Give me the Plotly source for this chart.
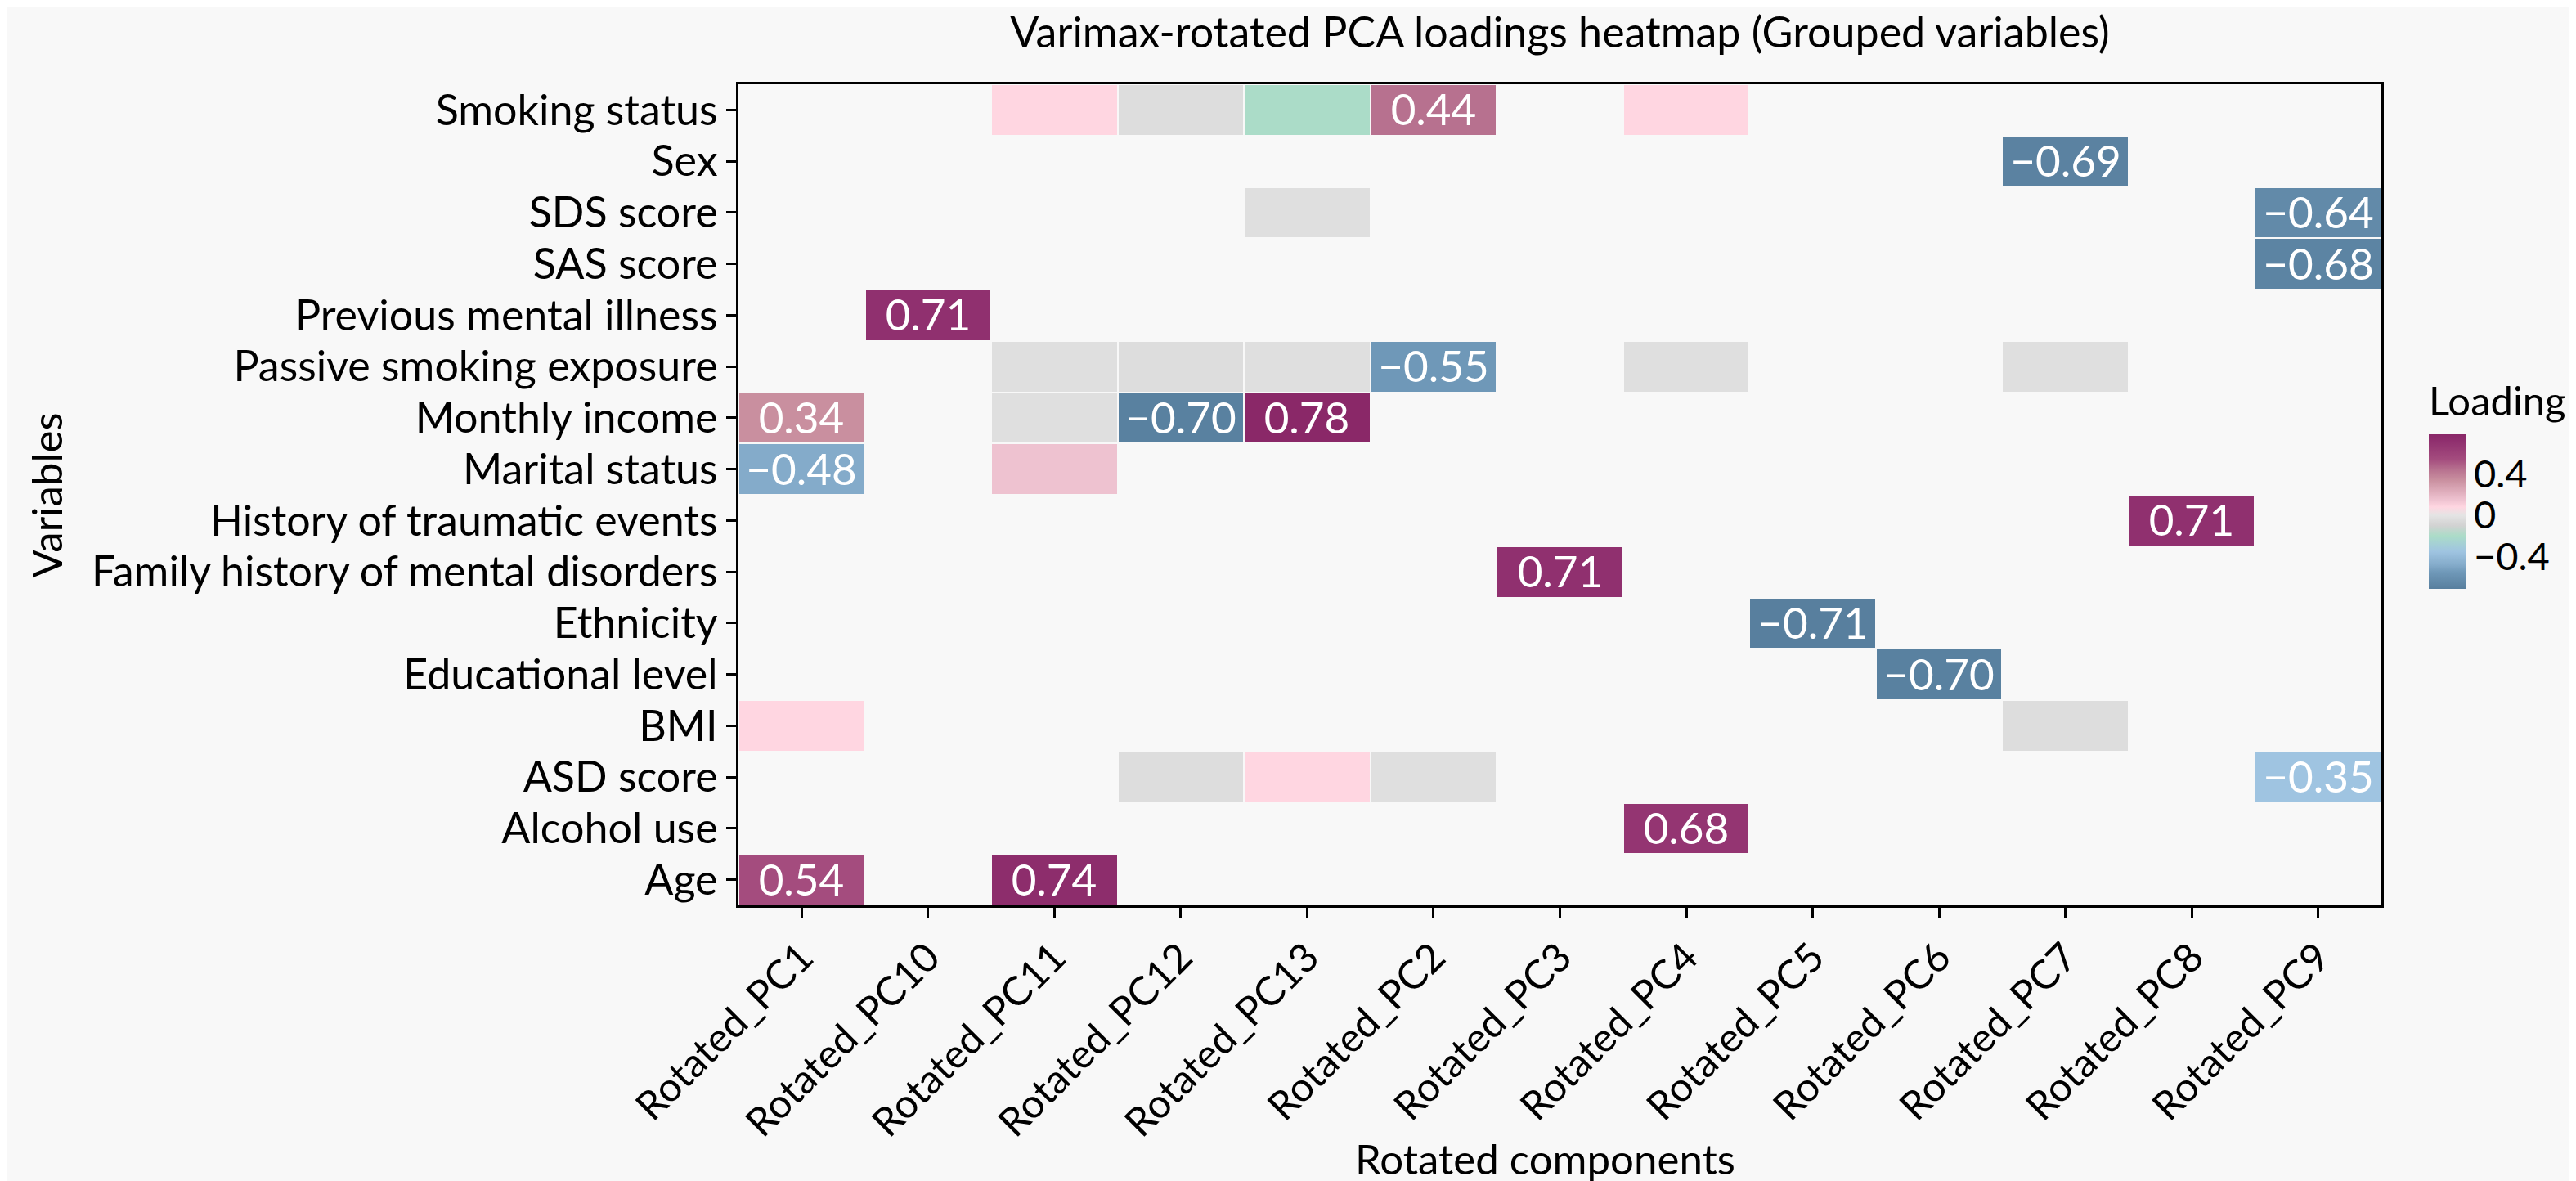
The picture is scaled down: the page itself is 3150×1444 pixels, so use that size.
import plotly.graph_objects as go

components = ["Rotated_PC1", "Rotated_PC10", "Rotated_PC11", "Rotated_PC12", "Rotated_PC13",
              "Rotated_PC2", "Rotated_PC3", "Rotated_PC4", "Rotated_PC5", "Rotated_PC6",
              "Rotated_PC7", "Rotated_PC8", "Rotated_PC9"]

variables = ["Smoking status", "Sex", "SDS score", "SAS score", "Previous mental illness",
             "Passive smoking exposure", "Monthly income", "Marital status",
             "History of traumatic events", "Family history of mental disorders",
             "Ethnicity", "Educational level", "BMI", "ASD score", "Alcohol use", "Age"]

# one row per variable, columns follow `components`; None = blank cell
smoking_status = [None, None, 0.08, -0.04, -0.20, 0.44, None, 0.08, None, None, None, None, None]
sex = [None, None, None, None, None, None, None, None, None, None, -0.69, None, None]
sds_score = [None, None, None, None, -0.03, None, None, None, None, None, None, None, -0.64]
sas_score = [None, None, None, None, None, None, None, None, None, None, None, None, -0.68]
previous_mental_illness = [None, 0.71, None, None, None, None, None, None, None, None, None, None, None]
passive_smoking = [None, None, -0.03, -0.04, -0.03, -0.55, None, -0.03, None, None, -0.03, None, None]
monthly_income = [0.34, None, -0.03, -0.70, 0.78, None, None, None, None, None, None, None, None]
marital_status = [-0.48, None, 0.15, None, None, None, None, None, None, None, None, None, None]
traumatic_events = [None, None, None, None, None, None, None, None, None, None, None, 0.71, None]
family_history = [None, None, None, None, None, None, 0.71, None, None, None, None, None, None]
ethnicity = [None, None, None, None, None, None, None, None, -0.71, None, None, None, None]
educational_level = [None, None, None, None, None, None, None, None, None, -0.70, None, None, None]
bmi = [0.08, None, None, None, None, None, None, None, None, None, -0.04, None, None]
asd_score = [None, None, None, -0.04, 0.08, -0.03, None, None, None, None, None, None, -0.35]
alcohol_use = [None, None, None, None, None, None, None, 0.68, None, None, None, None, None]
age = [0.54, None, 0.74, None, None, None, None, None, None, None, None, None, None]

loadings = [smoking_status, sex, sds_score, sas_score, previous_mental_illness, passive_smoking,
            monthly_income, marital_status, traumatic_events, family_history, ethnicity,
            educational_level, bmi, asd_score, alcohol_use, age]

cb_ticks = [-0.4, 0, 0.4]
cb_ticktext = ["\u22120.4", "0", "0.4"]

# label only the strong loadings
labels = []
for row in loadings:
    labels.append([("" if v is None or abs(v) < 0.3 else f"{v:.2f}".replace("-", "\u2212")) for v in row])

zmin, zmax = -0.71, 0.78


def stop(v):
    return (v - zmin) / (zmax - zmin)


colorscale = [
    [stop(-0.71), "#587f9e"],
    [stop(-0.55), "#6f98b8"],
    [stop(-0.48), "#84abca"],
    [stop(-0.35), "#9fc4e1"],
    [stop(-0.20), "#abdcc8"],
    [stop(-0.10), "#d2d2d2"],
    [stop(0.0), "#e4e4e4"],
    [stop(0.08), "#ffd6e1"],
    [stop(0.15), "#eec2d0"],
    [stop(0.34), "#c98f9f"],
    [stop(0.44), "#b7718f"],
    [stop(0.54), "#a44c7e"],
    [stop(0.71), "#90306f"],
    [stop(0.78), "#8a2868"],
]

FONT = "Lato"
W, H = 3150, 1444
L, R, T, B = 895, 245, 95, 345
PW, PH = W - L - R, H - T - B

fig = go.Figure(go.Heatmap(
    z=loadings, x=components, y=variables,
    zmin=zmin, zmax=zmax, colorscale=colorscale,
    text=labels, texttemplate="%{text}",
    textfont=dict(family=FONT, size=53, color="white"),
    xgap=2, ygap=2,
    colorbar=dict(
        title=dict(text="Loading", side="top", font=dict(family=FONT, size=49, color="black")),
        thickness=45, len=272, lenmode="pixels",
        x=(2952 - L) / PW, xanchor="left", y=(H - B - 586) / PH, yanchor="middle",
        tickvals=cb_ticks, ticktext=cb_ticktext, ticks="",
        tickfont=dict(family=FONT, size=47, color="black"),
        outlinewidth=0,
    ),
))

fig.update_xaxes(
    tickangle=-45, ticks="outside", ticklen=12, tickwidth=2.5, tickcolor="black",
    showline=True, linecolor="black", linewidth=3, mirror=True,
    tickfont=dict(family=FONT, size=49, color="black"), showgrid=False, automargin=False,
)
fig.update_yaxes(
    autorange="reversed", ticks="outside", ticklen=12, tickwidth=2.5, tickcolor="black",
    showline=True, linecolor="black", linewidth=3, mirror=True,
    tickfont=dict(family=FONT, size=52, color="black"), showgrid=False, automargin=False,
)

fig.update_layout(
    width=W, height=H,
    margin=dict(l=L, r=R, t=T, b=B),
    paper_bgcolor="#f8f8f8", plot_bgcolor="#f8f8f8",
    title=dict(text="Varimax-rotated PCA loadings heatmap (Grouped variables)",
               x=0.5, xref="paper", xanchor="center", y=1 - 32 / H, yanchor="middle",
               font=dict(family=FONT, size=52, color="black")),
    annotations=[
        dict(text="Rotated components", xref="paper", yref="paper", x=(1882 - L) / PW,
             y=-(1408 - (H - B)) / PH,
             xanchor="center", yanchor="middle", showarrow=False,
             font=dict(family=FONT, size=51, color="black")),
        dict(text="Variables", xref="paper", yref="paper", x=-(L - 48) / PW, y=0.5,
             xanchor="center", yanchor="middle", textangle=-90, showarrow=False,
             font=dict(family=FONT, size=51, color="black")),
    ],
)

fig.write_html("out.html")
